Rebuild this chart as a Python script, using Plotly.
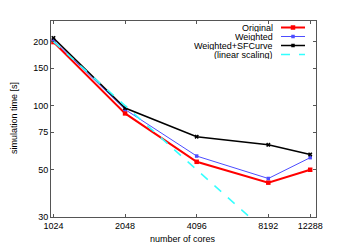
import plotly.graph_objects as go

cores = [1024, 2048, 4096, 8192, 12288]
original = [199, 92, 54.5, 43.5, 50]
weighted = [203, 96, 58, 45.5, 57]
weighted_sfc = [208, 97.5, 71.5, 65.5, 59]
linear_cores = [1024, 2048, 4096, 8192, 12288]
linear_scaling = [200, 100, 50, 25, 16.7]

series_names = ["Original", "Weighted", "Weighted+SFCurve", "(linear scaling)"]
x_ticks = [1024, 2048, 4096, 8192, 12288]
y_ticks = [30, 50, 75, 100, 150, 200]
x_title = "number of cores"
y_title = "simulation time [s]"

FONT = "Liberation Sans, Arial, sans-serif"
AX = "#555555"

fig = go.Figure()
fig.add_trace(go.Scatter(x=cores, y=original, mode="lines+markers", name=series_names[0],
                         line=dict(color="#ff0000", width=2),
                         marker=dict(symbol="square", size=4.5, color="#ff0000")))
fig.add_trace(go.Scatter(x=cores, y=weighted, mode="lines+markers", name=series_names[1],
                         line=dict(color="#4d4dff", width=1),
                         marker=dict(symbol="square", size=3.5, color="#4d4dff")))
fig.add_trace(go.Scatter(x=cores, y=weighted_sfc, mode="lines+markers", name=series_names[2],
                         line=dict(color="#000000", width=1.5),
                         marker=dict(symbol="x", size=4, color="#000000")))
fig.add_trace(go.Scatter(x=linear_cores, y=linear_scaling, mode="lines", name=series_names[3],
                         line=dict(color="#33ffff", width=1.5, dash="dash")))

L, R, T, B = 51, 30, 21, 28
W, H = 346, 245
pw, ph = W - L - R, H - T - B

def px_x(p):
    return (p - L) / pw

def px_y(p):
    return (H - B - p) / ph

shapes = []
annotations = []
leg = [
    (series_names[0], "#ff0000", 2, "solid", 4.5, 27.5),
    (series_names[1], "#4d4dff", 1, "solid", 3.5, 36.5),
    (series_names[2], "#000000", 1.5, "solid", 3.5, 45.5),
    (series_names[3], "#33ffff", 1.5, "dash", 0, 54.5),
]
for name, col, w, dash, ms, yy in leg:
    annotations.append(dict(text=name, x=px_x(275), y=px_y(yy), xref="paper", yref="paper",
                            xanchor="right", yanchor="middle", showarrow=False, height=8,
                            font=dict(family=FONT, size=9, color="#000000")))
    shapes.append(dict(type="line", xref="paper", yref="paper",
                       x0=px_x(281), x1=px_x(305), y0=px_y(yy), y1=px_y(yy),
                       line=dict(color=col, width=w, dash=dash)))
    if ms:
        h = ms / 2
        shapes.append(dict(type="rect", xref="paper", yref="paper",
                           x0=px_x(293 - h), x1=px_x(293 + h), y0=px_y(yy + h), y1=px_y(yy - h),
                           line=dict(width=0), fillcolor=col))

annotations.append(dict(text=x_title, x=px_x(183), y=px_y(239), xref="paper", yref="paper",
                        xanchor="center", yanchor="middle", showarrow=False, height=10,
                        font=dict(family=FONT, size=9, color="#000000")))
annotations.append(dict(text=y_title, x=px_x(14), y=px_y(118), xref="paper", yref="paper",
                        xanchor="center", yanchor="middle", showarrow=False, textangle=-90,
                        font=dict(family=FONT, size=9, color="#000000")))

fig.update_layout(
    width=W, height=H,
    margin=dict(l=L, r=R, t=T, b=B),
    paper_bgcolor="white", plot_bgcolor="white",
    showlegend=False,
    font=dict(family=FONT, size=9, color="#000000"),
    shapes=shapes, annotations=annotations,
)
fig.update_xaxes(type="log", range=[3, 4.1139], tickvals=x_ticks, ticktext=[str(v) for v in x_ticks],
                 ticks="inside", ticklen=3, tickcolor=AX, mirror="ticks", showline=True,
                 linecolor=AX, linewidth=1, showgrid=False, zeroline=False, automargin=False,
                 tickfont=dict(size=9))
fig.update_yaxes(type="log", range=[1.4771, 2.3979], tickvals=y_ticks, ticktext=[str(v) for v in y_ticks],
                 ticks="inside", ticklen=3, tickcolor=AX, mirror="ticks", showline=True,
                 linecolor=AX, linewidth=1, showgrid=False, zeroline=False, automargin=False,
                 tickfont=dict(size=9))

fig.write_html("out.html", config={"displayModeBar": False},
               post_script="document.body.style.margin='0px';")
